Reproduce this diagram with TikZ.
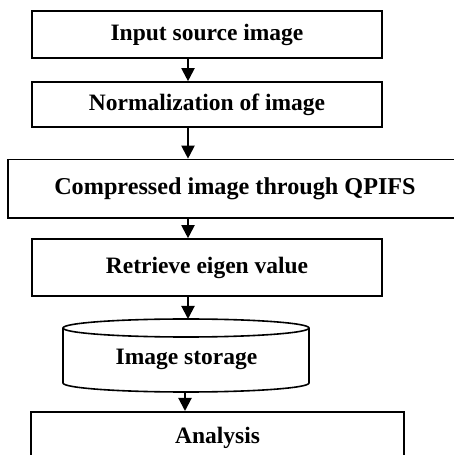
\documentclass[tikz,border=0pt]{standalone}
\usepackage{fontspec}
\setmainfont{Liberation Serif}
\usetikzlibrary{arrows.meta}
\begin{document}
\begin{tikzpicture}[x=1pt,y=1pt,
  box/.style={draw, line width=1.6pt, rectangle, inner sep=0pt, font=\fontsize{23.5}{28}\selectfont\bfseries},
  lbl/.style={inner sep=0pt, font=\fontsize{23.5}{28}\selectfont\bfseries},
  arr/.style={line width=2pt, -{Triangle[length=13pt,width=13pt]}}]
\useasboundingbox (0,0) rectangle (453,455);
\coordinate (ax) at (188,0);
\coordinate (ay) at (185,0);
\node[box, minimum width=350pt, minimum height=47pt] (b1) at (207,420.5) {Input source image};
\node[box, minimum width=350pt, minimum height=45pt] (b2) at (207,350.5) {Normalization of image};
\node[box, minimum width=462pt, minimum height=58.5pt, font=\fontsize{24.2}{29}\selectfont\bfseries] (b3) at (239,266.25) {\hspace*{-8pt}Compressed image through QPIFS};
\node[box, minimum width=350pt, minimum height=57pt] (b4) at (207,187.5) {Retrieve eigen value};
% cylinder
\draw[line width=1.6pt] (63,127) -- (63,72) arc[start angle=180,end angle=360,x radius=123,y radius=9] -- (309,127);
\draw[line width=1.6pt] (186,127) ellipse[x radius=123,y radius=9];
\coordinate (cyltop) at (188,136);
\coordinate (cylbot) at (185,63);
\node[lbl] (st) at (186.5,96) {Image storage};
\node[box, minimum width=373pt, minimum height=52pt, anchor=north] (an) at (217.5,44) {Analysis};
\draw[arr] (b1.south -| ax) -- (b2.north -| ax);
\draw[arr] (b2.south -| ax) -- (b3.north -| ax);
\draw[arr] (b3.south -| ax) -- (b4.north -| ax);
\draw[arr] (b4.south -| ax) -- (cyltop);
\draw[arr] (cylbot) -- (an.north -| ay);
\end{tikzpicture}
\end{document}
